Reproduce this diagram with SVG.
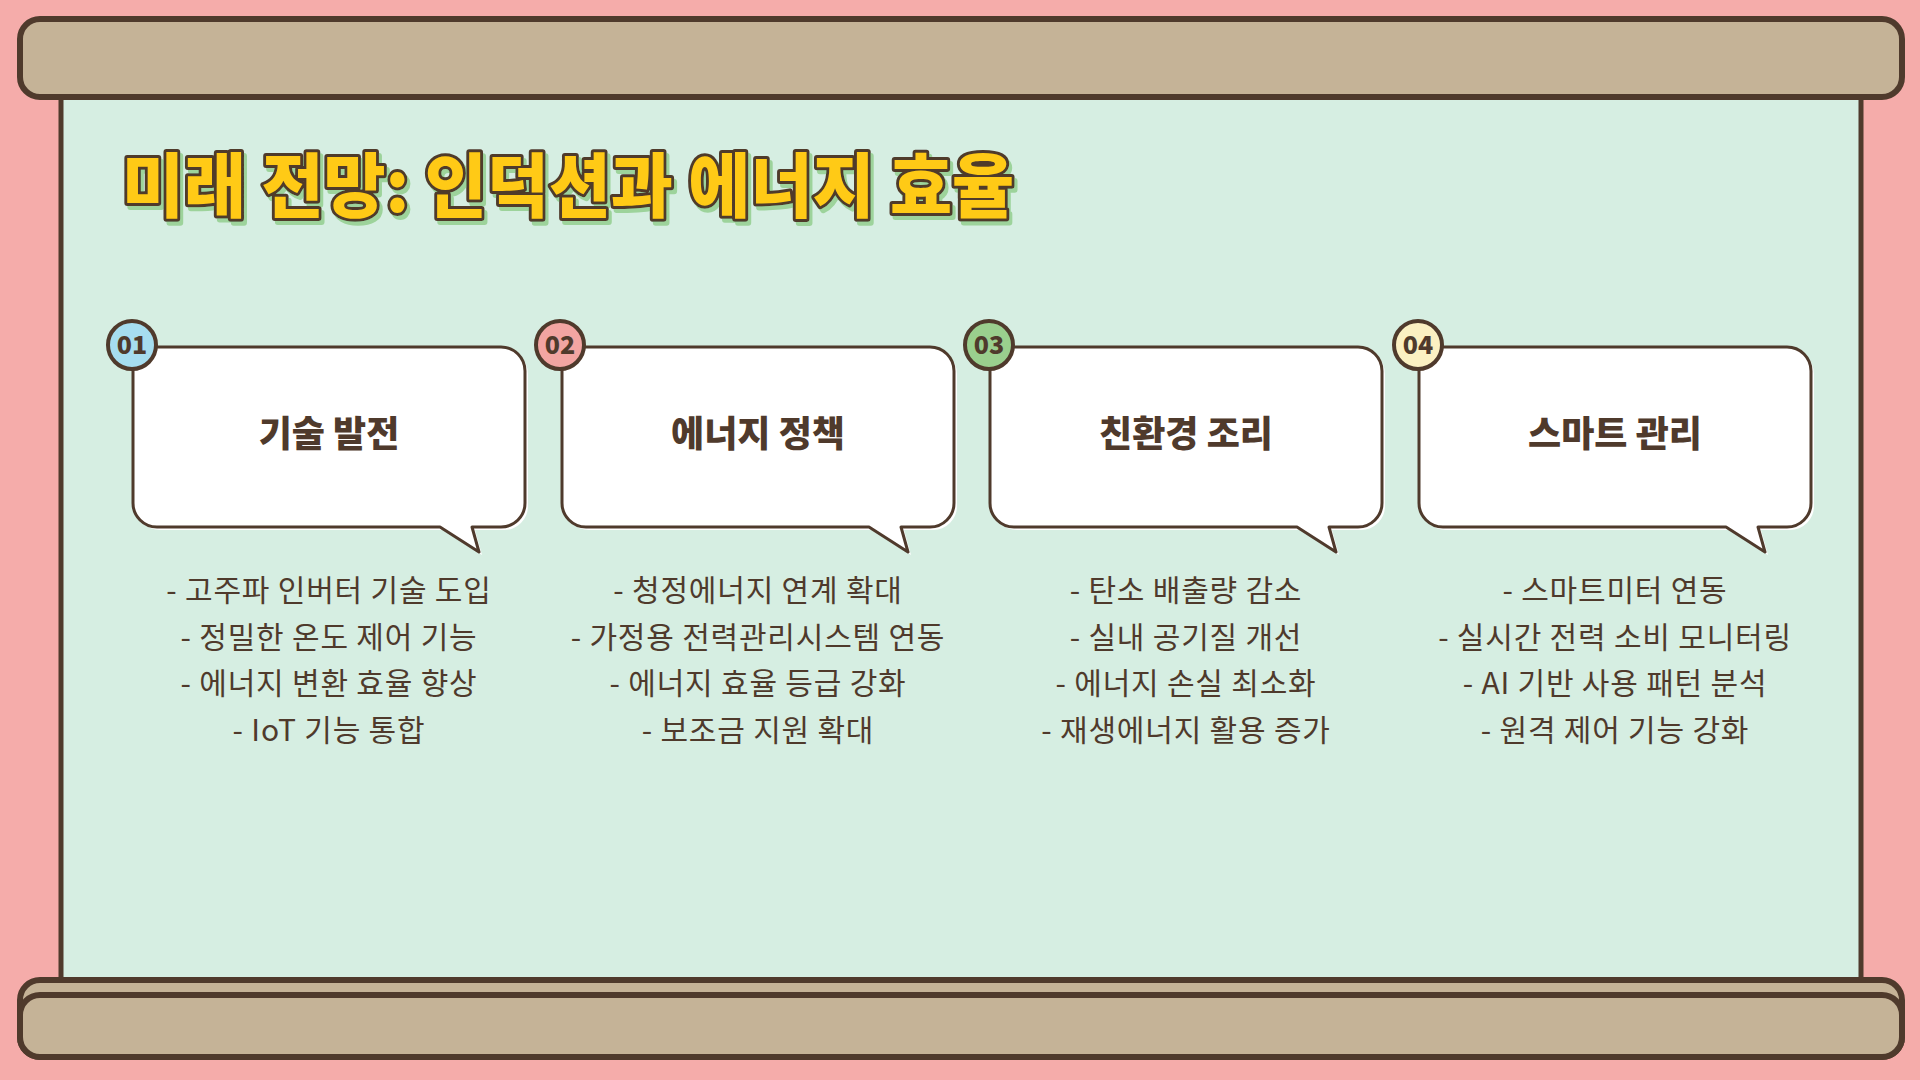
<svg xmlns="http://www.w3.org/2000/svg" width="1920" height="1080" viewBox="0 0 1920 1080">
<style>
.bar{fill:#C5B397;stroke:#4F3A2C;stroke-width:6}
.title{font-family:"Noto Sans CJK KR","Noto Sans",sans-serif;font-weight:900;font-size:70px}
.card{fill:#FFFFFF;stroke:#4F3A2C;stroke-width:3;stroke-linejoin:round}
.cardsh{fill:#FFFFFF}
.ctitle{font-family:"Noto Sans CJK KR","Noto Sans",sans-serif;font-weight:900;font-size:36px;fill:#4F3A2C;text-anchor:middle}
.badge{stroke:#4F3A2C;stroke-width:4}
.num{font-family:"Noto Sans CJK KR","Noto Sans",sans-serif;font-weight:900;font-size:25px;fill:#4F3A2C;text-anchor:middle}
.item{font-family:"Noto Sans CJK KR","Noto Sans",sans-serif;font-weight:400;font-size:30px;letter-spacing:0.8px;fill:#4F3A2C;text-anchor:middle}
</style>
<defs>
<path id="bubble" d="M24,0 H368 A24,24 0 0 1 392,24 V156 A24,24 0 0 1 368,180 H339 L346,205 L307,180 H24 A24,24 0 0 1 0,156 V24 A24,24 0 0 1 24,0 Z"/>
<filter id="tshadow" x="-5%" y="-20%" width="110%" height="150%">
<feOffset in="SourceAlpha" dx="3" dy="4" result="off"/>
<feFlood flood-color="#9DD39B"/>
<feComposite in2="off" operator="in" result="sh"/>
<feMerge><feMergeNode in="sh"/><feMergeNode in="SourceGraphic"/></feMerge>
</filter>
</defs>
<rect x="0" y="0" width="1920" height="1080" fill="#F5ACAA"/>
<g id="frame">
<rect x="61" y="90" width="1800" height="895" fill="#D6EEE2" stroke="#4F3A2C" stroke-width="5"/>
<rect class="bar" x="20" y="19" width="1882" height="78" rx="20"/>
<rect class="bar" x="20" y="980" width="1882" height="77" rx="20"/>
<rect class="bar" x="20" y="995" width="1882" height="62" rx="20"/>
</g>
<g id="title">
<text class="title" x="122" y="212" textLength="892" lengthAdjust="spacingAndGlyphs" fill="#FFCA14" stroke="#4F3A2C" stroke-width="6" stroke-linejoin="round" paint-order="stroke" filter="url(#tshadow)">미래 전망: 인덕션과 에너지 효율</text>
</g>
<g id="node1">
<use href="#bubble" class="cardsh" transform="translate(136,350)"/>
<use href="#bubble" class="card" transform="translate(133,347)"/>
<circle class="badge" cx="132" cy="345" r="24" fill="#A6DDEF"/>
<text class="num" x="132" y="354">01</text>
<text class="ctitle" x="329" y="447">기술 발전</text>
<text class="item" x="329" y="601">- 고주파 인버터 기술 도입</text>
<text class="item" x="329" y="648">- 정밀한 온도 제어 기능</text>
<text class="item" x="329" y="694">- 에너지 변환 효율 향상</text>
<text class="item" x="329" y="741">- IoT 기능 통합</text>
</g>
<g id="node2">
<use href="#bubble" class="cardsh" transform="translate(565,350)"/>
<use href="#bubble" class="card" transform="translate(562,347)"/>
<circle class="badge" cx="560" cy="345" r="24" fill="#F2A5A2"/>
<text class="num" x="560" y="354">02</text>
<text class="ctitle" x="758" y="447">에너지 정책</text>
<text class="item" x="758" y="601">- 청정에너지 연계 확대</text>
<text class="item" x="758" y="648">- 가정용 전력관리시스템 연동</text>
<text class="item" x="758" y="694">- 에너지 효율 등급 강화</text>
<text class="item" x="758" y="741">- 보조금 지원 확대</text>
</g>
<g id="node3">
<use href="#bubble" class="cardsh" transform="translate(993,350)"/>
<use href="#bubble" class="card" transform="translate(990,347)"/>
<circle class="badge" cx="989" cy="345" r="24" fill="#9ACF8E"/>
<text class="num" x="989" y="354">03</text>
<text class="ctitle" x="1186" y="447">친환경 조리</text>
<text class="item" x="1186" y="601">- 탄소 배출량 감소</text>
<text class="item" x="1186" y="648">- 실내 공기질 개선</text>
<text class="item" x="1186" y="694">- 에너지 손실 최소화</text>
<text class="item" x="1186" y="741">- 재생에너지 활용 증가</text>
</g>
<g id="node4">
<use href="#bubble" class="cardsh" transform="translate(1422,350)"/>
<use href="#bubble" class="card" transform="translate(1419,347)"/>
<circle class="badge" cx="1418" cy="345" r="24" fill="#FBF0C2"/>
<text class="num" x="1418" y="354">04</text>
<text class="ctitle" x="1615" y="447">스마트 관리</text>
<text class="item" x="1615" y="601">- 스마트미터 연동</text>
<text class="item" x="1615" y="648">- 실시간 전력 소비 모니터링</text>
<text class="item" x="1615" y="694">- AI 기반 사용 패턴 분석</text>
<text class="item" x="1615" y="741">- 원격 제어 기능 강화</text>
</g>
<g id="connectors"></g>
</svg>
